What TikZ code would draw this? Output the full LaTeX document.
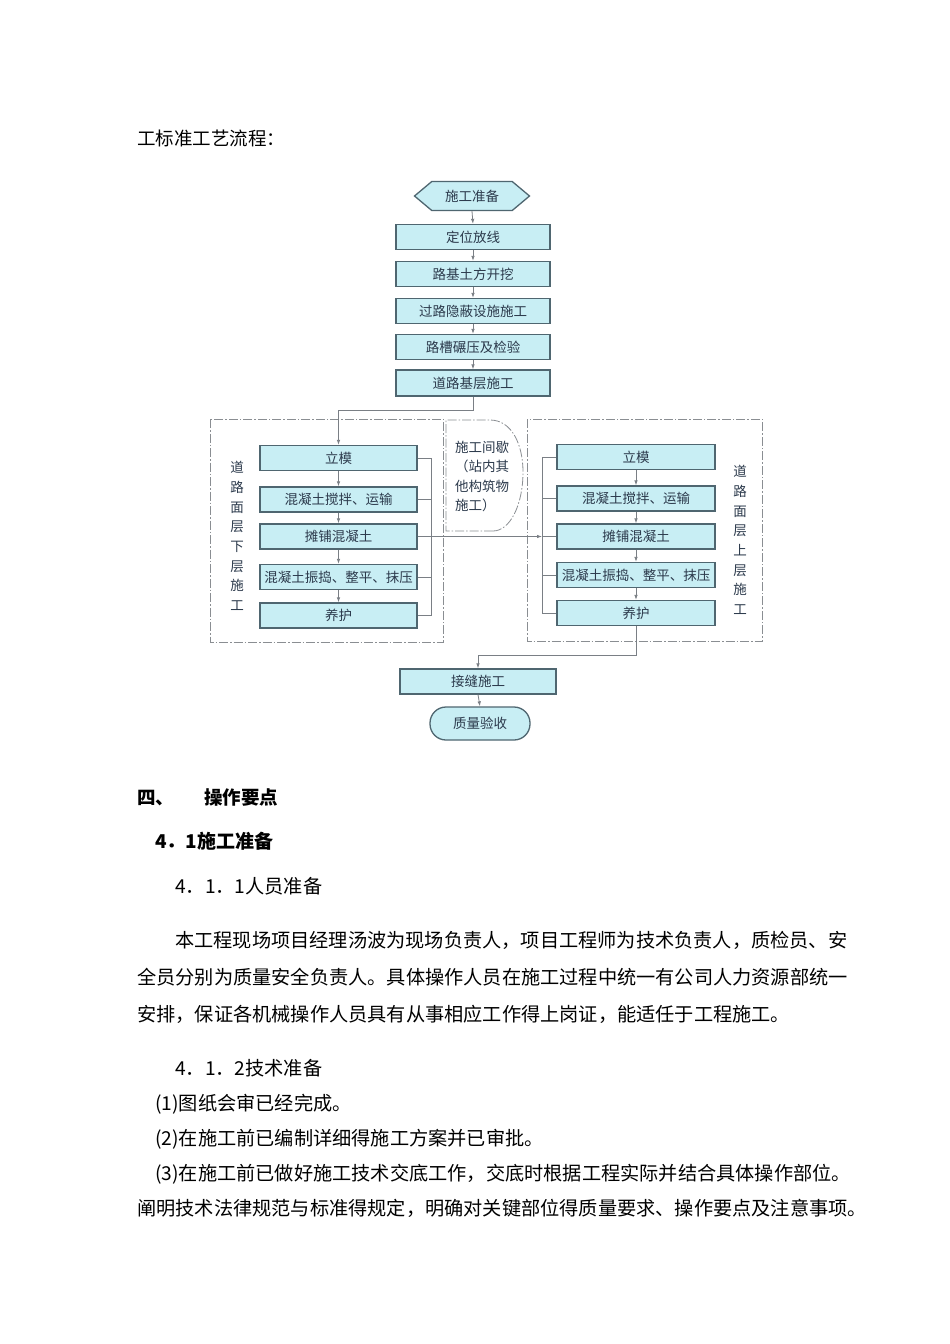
\documentclass[tikz,border=0pt]{standalone}
\usepackage{fontspec}
\setmainfont{Noto Sans CJK SC}
\usetikzlibrary{arrows.meta,shapes.symbols,calc}
\definecolor{boxfill}{HTML}{C8EEF4}
\definecolor{boxline}{HTML}{4F6670}
\definecolor{conn}{HTML}{7A7F85}
\definecolor{boxtext}{HTML}{2C3A4C}
\definecolor{frame}{HTML}{8A8E92}
\tikzset{
  stepbox/.style={draw=boxline, line width=1.3pt, fill=boxfill, minimum height=25pt, inner sep=0pt, text=boxtext, font=\fontsize{13.5}{15}\selectfont},
  conline/.style={draw=conn, line width=0.8pt},
  arr/.style={conline, -{Latex[length=5pt,width=3.5pt]}},
  dashframe/.style={draw=frame, line width=0.8pt, dash pattern=on 9pt off 2pt on 1.5pt off 2pt},
  vlabel/.style={align=center, text=boxtext, font=\fontsize{13.5}{19.7}\selectfont, inner sep=0pt},
  bodytext/.style={anchor=base west, inner sep=0pt, font=\fontsize{19.2}{20}\selectfont},
}
\begin{document}
\begin{tikzpicture}[x=1pt,y=-1pt]
\fill[white] (0,0) rectangle (950,1344);
\useasboundingbox (0,0) rectangle (950,1344);

% title
\node[anchor=base west, inner sep=0pt, font=\fontsize{18.5}{20}\selectfont] (title) at (137,145) {工标准工艺流程：};

% frames
\draw[dashframe] (210,419) rectangle (443,642);
\draw[dashframe] (527,419) rectangle (762,641);
\draw[dashframe] (493,531) -- (446,531) -- (446,420) -- (490,420)
  .. controls (512,420) and (523,445) .. (523,472)
  .. controls (523,505) and (510,531) .. (493,531);

% main column
\node[stepbox, shape=signal, signal to=east and west, signal pointer angle=80, minimum width=115pt, minimum height=29pt] (s0) at (472,196) {施工准备};
\node[stepbox, minimum width=154pt] (b1) at (473,237) {定位放线};
\node[stepbox, minimum width=154pt] (b2) at (473,274) {路基土方开挖};
\node[stepbox, minimum width=154pt] (b3) at (473,311) {过路隐蔽设施施工};
\node[stepbox, minimum width=154pt] (b4) at (473,347) {路槽碾压及检验};
\node[stepbox, minimum width=154pt, minimum height=26pt] (b5) at (473,383) {道路基层施工};

% left column
\node[stepbox, minimum width=157pt] (l1) at (338.5,458) {立模};
\node[stepbox, minimum width=157pt] (l2) at (338.5,499.5) {混凝土搅拌、运输};
\node[stepbox, minimum width=157pt] (l3) at (338.5,536.5) {摊铺混凝土};
\node[stepbox, minimum width=157pt] (l4) at (338.5,577) {混凝土振捣、整平、抹压};
\node[stepbox, minimum width=157pt] (l5) at (338.5,615.5) {养护};

% right column
\node[stepbox, minimum width=158pt] (r1) at (636,457) {立模};
\node[stepbox, minimum width=158pt] (r2) at (636,498.5) {混凝土搅拌、运输};
\node[stepbox, minimum width=158pt] (r3) at (636,536.5) {摊铺混凝土};
\node[stepbox, minimum width=158pt] (r4) at (636,575) {混凝土振捣、整平、抹压};
\node[stepbox, minimum width=158pt] (r5) at (636,613) {养护};

% bottom
\node[stepbox, minimum width=156pt] (jf) at (478,681.5) {接缝施工};
\node[stepbox, minimum width=100pt, minimum height=33pt, rounded corners=16pt] (qc) at (480,723.5) {质量验收};

% labels
\node[vlabel] (lv) at (237,536) {道\\路\\面\\层\\下\\层\\施\\工};
\node[vlabel] (rv) at (740,540) {道\\路\\面\\层\\上\\层\\施\\工};
\node[anchor=north west, align=left, inner sep=0pt, text=boxtext, font=\fontsize{13.5}{19.3}\selectfont] (gap) at (455,441) {施工间歇\\（站内其\\他构筑物\\施工）};

% connectors main column
\draw[arr] (s0.south) -- (b1.north);
\draw[arr] (b1.south) -- (b2.north);
\draw[arr] (b2.south) -- (b3.north);
\draw[arr] (b3.south) -- (b4.north);
\draw[arr] (b4.south) -- (b5.north);
\coordinate (split) at (473,410);
\draw[arr] (b5.south) -- (split) -| (l1.north);

% left column connectors
\draw[arr] (l1.south) -- (l2.north);
\draw[arr] (l2.south) -- (l3.north);
\draw[arr] (l3.south) -- (l4.north);
\draw[arr] (l4.south) -- (l5.north);
\coordinate (lbx) at (431,0);
\draw[conline] (l1.east) -- (l1.east -| lbx) -- (l5.east -| lbx) -- (l5.east);
\draw[conline] (l2.east) -- (l2.east -| lbx);
\draw[conline] (l4.east) -- (l4.east -| lbx);

% cross arrow
\coordinate (rbx) at (542,0);
\draw[arr] (l3.east) -- (l3.east -| rbx);

% right column connectors
\draw[arr] (r1.south) -- (r2.north);
\draw[arr] (r2.south) -- (r3.north);
\draw[arr] (r3.south) -- (r4.north);
\draw[arr] (r4.south) -- (r5.north);
\draw[conline] (r1.west) -- (r1.west -| rbx) -- (r5.west -| rbx) -- (r5.west);
\draw[conline] (r2.west) -- (r2.west -| rbx);
\draw[conline] (r3.west) -- (r3.west -| rbx);
\draw[conline] (r4.west) -- (r4.west -| rbx);

% exit
\coordinate (merge) at (636,655);
\draw[arr] (r5.south) -- (merge) -| (jf.north);
\draw[arr] (jf.south) -- (qc.north);

% body text
\node[bodytext, font=\fontsize{18.5}{20}\selectfont\bfseries] (h4) at (137,804) {四、};
\node[bodytext, font=\fontsize{18.5}{20}\selectfont\bfseries] (h4b) at (204,804) {操作要点};
\node[bodytext, font=\fontsize{19}{20}\selectfont\bfseries] (h41) at (155,848) {4．1施工准备};
\node[bodytext] (h411) at (175,893) {4．1．1人员准备};
\node[bodytext] (p1) at (175,947) {本工程现场项目经理汤波为现场负责人，项目工程师为技术负责人，质检员、安};
\node[bodytext] (p2) at (137,984) {全员分别为质量安全负责人。具体操作人员在施工过程中统一有公司人力资源部统一};
\node[bodytext] (p3) at (137,1021) {安排，保证各机械操作人员具有从事相应工作得上岗证，能适任于工程施工。};
\node[bodytext] (h412) at (175,1075) {4．1．2技术准备};
\node[bodytext] (q1) at (155,1110) {(1)图纸会审已经完成。};
\node[bodytext] (q2) at (155,1145) {(2)在施工前已编制详细得施工方案并已审批。};
\node[bodytext] (q3) at (155,1180) {(3)在施工前已做好施工技术交底工作，交底时根据工程实际并结合具体操作部位。};
\node[bodytext] (q4) at (137,1215) {阐明技术法律规范与标准得规定，明确对关键部位得质量要求、操作要点及注意事项。};
\end{tikzpicture}
\end{document}
